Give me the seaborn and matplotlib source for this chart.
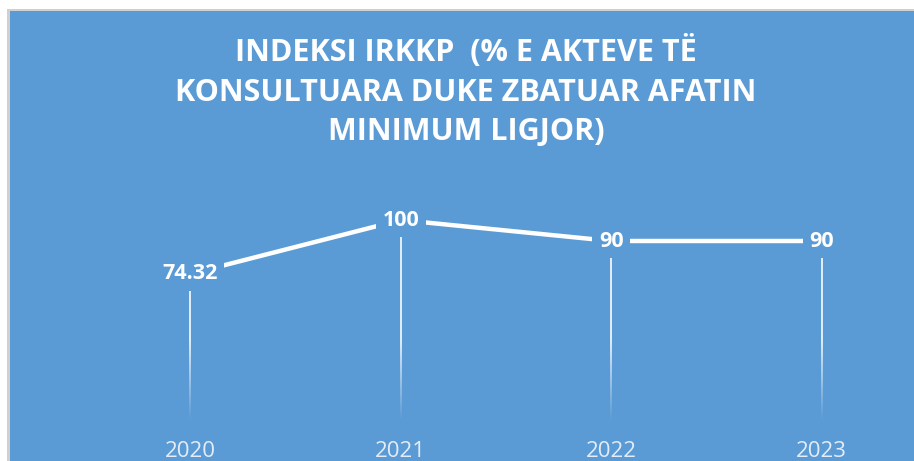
import numpy as np
import pandas as pd
import matplotlib
matplotlib.use("Agg")
import matplotlib.pyplot as plt
from matplotlib.patches import Rectangle
from matplotlib.collections import LineCollection
import seaborn as sns

# Te dhenat e grafikut
vitet = ["2020", "2021", "2022", "2023"]
indeksi = [74.32, 100, 90, 90]
etiketat = ["74.32", "100", "90", "90"]
titulli = "INDEKSI IRKKP  (% E AKTEVE TË\nKONSULTUARA DUKE ZBATUAR AFATIN\nMINIMUM LIGJOR)"

blu = "#5B9BD5"

sns.set_theme(style="white")
plt.rcParams["font.family"] = ["Open Sans", "DejaVu Sans"]

df = pd.DataFrame({"VITI": vitet, "INDEKSI": indeksi})

W, H = 914, 461
fig = plt.figure(figsize=(W / 100, H / 100), dpi=100, facecolor="white")

# Sfondi blu me kornize gri
fig.patches.append(Rectangle((7 / W, 0), 1, 1 - 9 / H, transform=fig.transFigure,
                             facecolor="#D0D0D0", edgecolor="none", zorder=-20))
fig.patches.append(Rectangle((10 / W, 0), 1, 1 - 11 / H, transform=fig.transFigure,
                             facecolor=blu, edgecolor="none", zorder=-10))

# Zona e grafikut (vendosur sipas pozicioneve ne figure)
left_px, right_px, bottom_px, top_px = 85, 927, 430, 178
ax = fig.add_axes([left_px / W, 1 - bottom_px / H,
                   (right_px - left_px) / W, (bottom_px - top_px) / H])
ax.set_facecolor("none")
ax.set_zorder(5)

sns.lineplot(data=df, x="VITI", y="INDEKSI", ax=ax, color="white",
             linewidth=3.2, sort=False, zorder=3)

ax.set_xlim(-0.5, 3.5)
ax.set_ylim(0, 120)

# Vijat vertikale qe zbehen drejt boshtit
for i, v in enumerate(indeksi):
    ys = np.linspace(0, v, 120)
    segs = [[(i, ys[k]), (i, ys[k + 1])] for k in range(len(ys) - 1)]
    mid = (ys[:-1] + ys[1:]) / 2
    alfa = np.clip((mid - 5) / 38, 0, 1) * 0.9
    cols = [(1, 1, 1, a) for a in alfa]
    ax.add_collection(LineCollection(segs, colors=cols, linewidths=1.3, zorder=2))

# Etiketat e vlerave
for i, (v, t) in enumerate(zip(indeksi, etiketat)):
    ax.text(i, v, t, ha="center", va="center", color="white", fontsize=15.5,
            fontweight="bold", zorder=5,
            bbox=dict(boxstyle="square,pad=0.3", facecolor=blu, edgecolor="none"))

ax.set_xticks(range(len(vitet)))
ax.set_xticklabels(vitet, fontsize=16, color="#E4ECF7")
ax.tick_params(axis="x", length=0, pad=8)
ax.set_yticks([])
ax.set_xlabel("")
ax.set_ylabel("")
for s in ax.spines.values():
    s.set_visible(False)

fig.text(466 / W, 1 - 91 / H, titulli, ha="center", va="center", color="white",
         fontsize=22, fontweight="bold", linespacing=1.4)

fig.savefig("out.png", dpi=100, facecolor=fig.get_facecolor())
